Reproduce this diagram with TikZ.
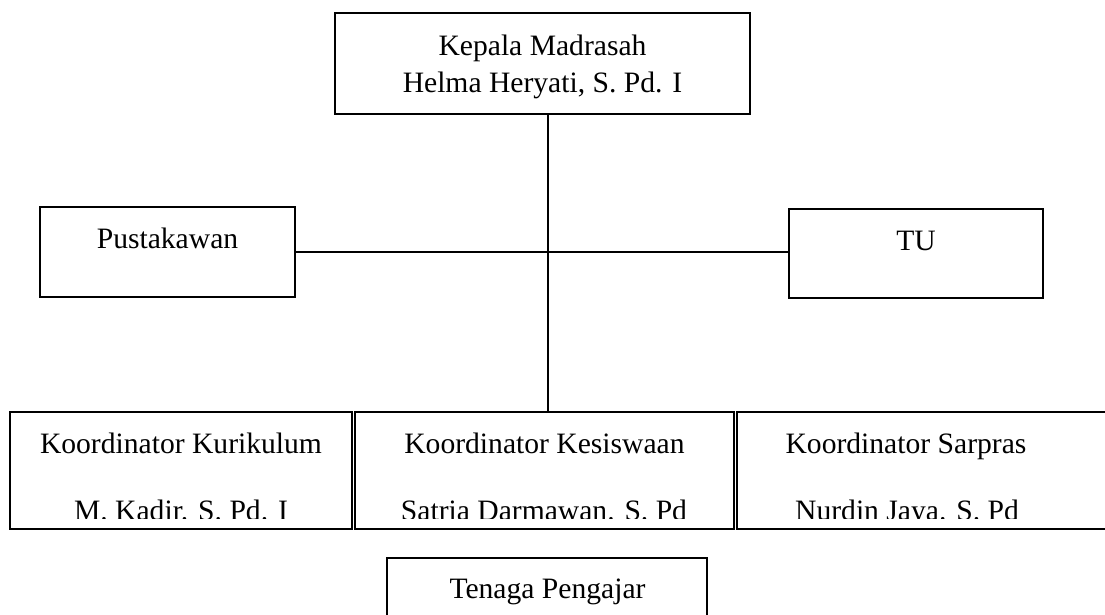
\documentclass[tikz,border=0pt]{standalone}
\usepackage{fontspec}
\setmainfont{Liberation Serif}
\usepackage{tikz}

\begin{document}
\begin{tikzpicture}[x=1pt,y=-1pt,
		box/.style={draw,rectangle,line width=1.4pt,inner sep=0pt,outer sep=0pt},
		txt/.style={anchor=base,inner sep=0pt,font=\fontsize{29.6}{36}\selectfont},
		link/.style={line width=1.8pt,black}]
		\useasboundingbox (0,0) rectangle (1105,614);
		\path (542.5,63.5) node(kepala)[box,minimum width=415pt,minimum height=101pt]{}
		(167.5,252) node(pustaka)[box,minimum width=255pt,minimum height=90pt]{}
		(916,253.5) node(tu)[box,minimum width=254pt,minimum height=89pt]{}
		(181,470.5) node(kurikulum)[box,minimum width=342pt,minimum height=117pt]{}
		(544.5,470.5) node(kesiswaan)[box,minimum width=379pt,minimum height=117pt]{}
		(933.5,470.5) node(sarpras)[box,minimum width=393pt,minimum height=117pt]{}
		(547,599) node(pengajar)[box,minimum width=320pt,minimum height=82pt]{};
		\coordinate (hub) at (548,252);
		\draw[link] (kepala.south -| hub) to (kesiswaan.north -| hub);
		\draw[link] (pustaka.east) to (pustaka.east -| tu.west);
		% teks
		\path (542.5,55) node(kepalaA)[txt]{Kepala Madrasah}
		(542.5,92) node(kepalaB)[txt]{Helma Heryati, S. Pd. I}
		(167.5,248) node(pustakaT)[txt]{Pustakawan}
		(916,250) node(tuT)[txt]{TU}
		(181,453) node(kurikulumA)[txt]{Koordinator Kurikulum}
		(544.5,453) node(kesiswaanA)[txt]{Koordinator Kesiswaan}
		(906,453) node(sarprasA)[txt]{Koordinator Sarpras}
		(547.5,598) node(pengajarT)[txt]{Tenaga Pengajar};
		\begin{scope}
			\clip (0,0) rectangle (1105,518);
			\path (181,520) node(kurikulumB)[txt]{M. Kadir. S. Pd. I}
			(544,520) node(kesiswaanB)[txt]{Satria Darmawan. S. Pd}
			(907,520) node(sarprasB)[txt]{Nurdin Jaya. S. Pd};
		\end{scope}
\end{tikzpicture}
\end{document}
